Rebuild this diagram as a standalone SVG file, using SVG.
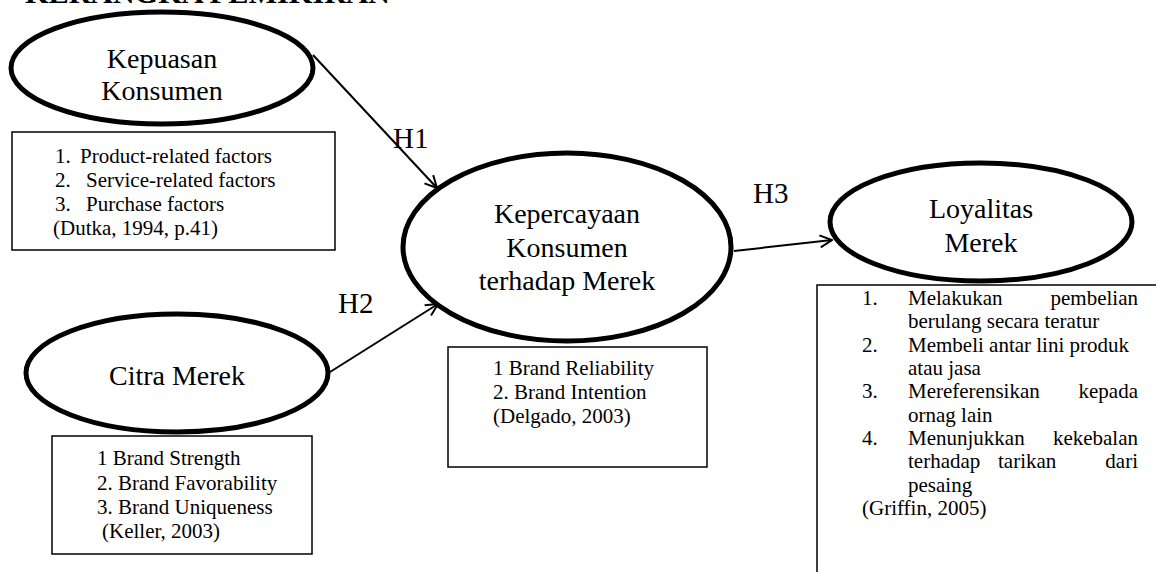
<svg xmlns="http://www.w3.org/2000/svg" width="1156" height="572" viewBox="0 0 1156 572">
<style>
text{font-family:"Liberation Serif","Times New Roman",serif;fill:#000}
.big{font-size:28px}
.h{font-size:29px}
.sm{font-size:21px}
.title{font-size:29px;font-weight:bold}
.ell{fill:#fff;stroke:#000;stroke-width:5}
.box{fill:#fff;stroke:#000;stroke-width:1.5}
.con{stroke:#000;stroke-width:2;fill:none}
</style>
<defs>
<marker id="arr" viewBox="0 0 14 14" refX="13" refY="7" markerWidth="14" markerHeight="14" markerUnits="userSpaceOnUse" orient="auto">
<path d="M1,1 L13,7 L1,13" fill="none" stroke="#000" stroke-width="2"/>
</marker>
</defs>
<rect width="1156" height="572" fill="#fff"/>
<text class="title" x="25" y="3" textLength="365" lengthAdjust="spacingAndGlyphs">KERANGKA PEMIKIRAN</text>

<g id="connectors">
<line class="con" x1="313" y1="55" x2="437" y2="188" marker-end="url(#arr)"/>
<line class="con" x1="330" y1="372" x2="438" y2="304" marker-end="url(#arr)"/>
<line class="con" x1="734" y1="251" x2="832" y2="240" marker-end="url(#arr)"/>
<text class="h" x="393" y="148">H1</text>
<text class="h" x="338" y="313">H2</text>
<text class="h" x="753" y="203">H3</text>
</g>

<g id="kepuasan">
<ellipse class="ell" cx="162" cy="68" rx="151" ry="56"/>
<text class="big" x="162" y="68" text-anchor="middle">Kepuasan</text>
<text class="big" x="162" y="100" text-anchor="middle">Konsumen</text>
</g>

<g id="kepuasan-box">
<rect class="box" x="12" y="132" width="323" height="118"/>
<text class="sm" x="55" y="163">1.</text><text class="sm" x="80" y="163">Product-related factors</text>
<text class="sm" x="55" y="187">2.</text><text class="sm" x="86" y="187">Service-related factors</text>
<text class="sm" x="55" y="211">3.</text><text class="sm" x="86" y="211">Purchase factors</text>
<text class="sm" x="53" y="235">(Dutka, 1994, p.41)</text>
</g>

<g id="citra">
<ellipse class="ell" cx="177" cy="373" rx="151" ry="59"/>
<text class="big" x="177" y="385" text-anchor="middle">Citra Merek</text>
</g>

<g id="citra-box">
<rect class="box" x="52" y="436" width="260" height="118"/>
<text class="sm" x="97" y="465">1 Brand Strength</text>
<text class="sm" x="97" y="490">2. Brand Favorability</text>
<text class="sm" x="97" y="514">3. Brand Uniqueness</text>
<text class="sm" x="102" y="538">(Keller, 2003)</text>
</g>

<g id="kepercayaan">
<ellipse class="ell" cx="567" cy="247" rx="164" ry="94"/>
<text class="big" x="567" y="223" text-anchor="middle">Kepercayaan</text>
<text class="big" x="567" y="257" text-anchor="middle">Konsumen</text>
<text class="big" x="567" y="290" text-anchor="middle">terhadap Merek</text>
</g>

<g id="kepercayaan-box">
<rect class="box" x="448" y="347" width="259" height="120"/>
<text class="sm" x="493" y="375">1 Brand Reliability</text>
<text class="sm" x="493" y="399">2. Brand Intention</text>
<text class="sm" x="493" y="423">(Delgado, 2003)</text>
</g>

<g id="loyalitas">
<ellipse class="ell" cx="981" cy="222" rx="151" ry="59"/>
<text class="big" x="981" y="218" text-anchor="middle">Loyalitas</text>
<text class="big" x="981" y="252" text-anchor="middle">Merek</text>
</g>

<g id="loyalitas-box">
<rect class="box" x="817" y="285" width="420" height="400"/>
<text class="sm" x="862" y="305">1.</text>
<text class="sm" x="908" y="305">Melakukan</text>
<text class="sm" x="1138" y="305" text-anchor="end">pembelian</text>
<text class="sm" x="908" y="328">berulang secara teratur</text>
<text class="sm" x="862" y="352">2.</text>
<text class="sm" x="908" y="352">Membeli antar lini produk</text>
<text class="sm" x="908" y="375">atau jasa</text>
<text class="sm" x="862" y="398">3.</text>
<text class="sm" x="908" y="398">Mereferensikan</text>
<text class="sm" x="1138" y="398" text-anchor="end">kepada</text>
<text class="sm" x="908" y="422">ornag lain</text>
<text class="sm" x="862" y="445">4.</text>
<text class="sm" x="908" y="445">Menunjukkan</text>
<text class="sm" x="1138" y="445" text-anchor="end">kekebalan</text>
<text class="sm" x="908" y="468">terhadap</text>
<text class="sm" x="998" y="468">tarikan</text>
<text class="sm" x="1138" y="468" text-anchor="end">dari</text>
<text class="sm" x="908" y="492">pesaing</text>
<text class="sm" x="862" y="515">(Griffin, 2005)</text>
</g>
</svg>
